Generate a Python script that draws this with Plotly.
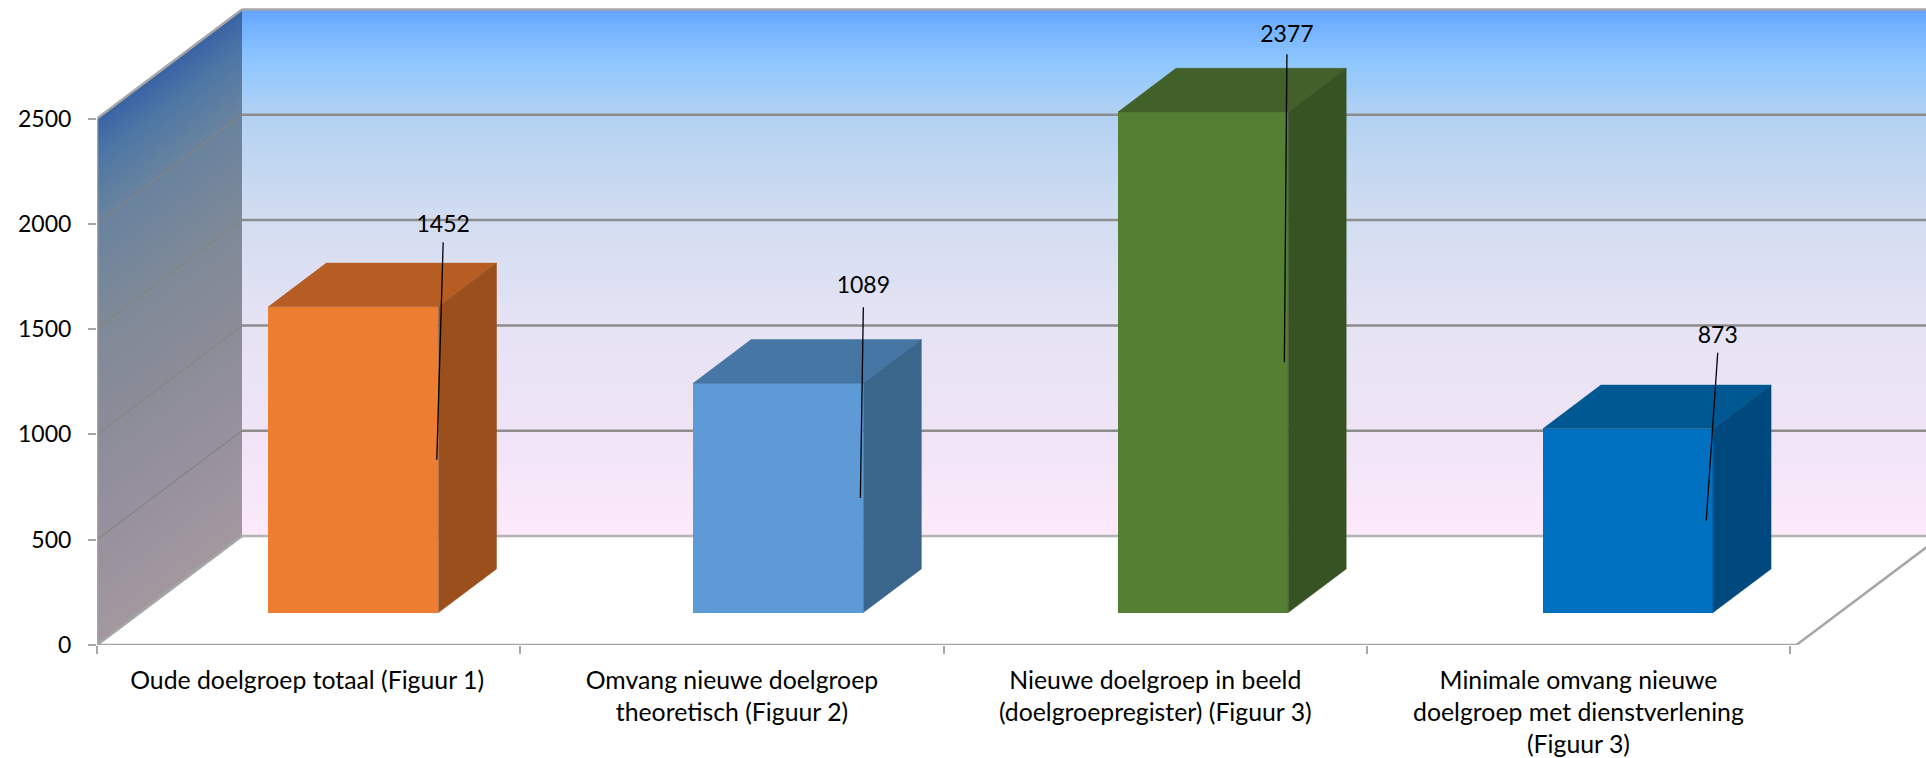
import plotly.graph_objects as go

# ---- data ----
categories = [
    "Oude doelgroep totaal (Figuur 1)",
    "Omvang nieuwe doelgroep<br>theoretisch (Figuur 2)",
    "Nieuwe doelgroep in beeld<br>(doelgroepregister) (Figuur 3)",
    "Minimale omvang nieuwe<br>doelgroep met dienstverlening<br>(Figuur 3)",
]
values = [1452, 1089, 2377, 873]
y_ticks = [0, 500, 1000, 1500, 2000, 2500]

# ---- styles ----
front_colors = ["#ed7d31", "#5e9bd6", "#558033", "#0070c0"]
top_colors = ["#b55d22", "#4676a3", "#41602a", "#005893"]
side_colors = ["#9a4f1c", "#3a668c", "#375323", "#00497f"]
# leader-line placement relative to each bar's front face
label_lift = [306, 361, 274, 361]
leader_top_dx = [0.011, 0.0, -0.003, 0.011]
leader_low_dx = [-0.004, -0.007, -0.009, -0.016]
label_gap = [78, 96, 84, 72]

W, H = 1926, 758
LEFT, BOTTOM_PX = 97, 645
PX_X, PX_Y = 424.85, 0.2106
X_END = (W - LEFT) / PX_X
Y_END = BOTTOM_PX / PX_Y
WALL_DX, WALL_DY = 145 / PX_X, 109 / PX_Y     # depth of the chart box
BAR_DX, BAR_DY = 58 / PX_X, 207.5             # depth of each bar
BAR_W = 0.4006
SHIFT_X, BASE = 0.1035, 153.8                 # front face sits inside the floor
GRID = "#8c8c8c"
FRAME = "#a6a6a6"
FONT_NUM = dict(family="Lato, Carlito, sans-serif", size=23, color="#000000")
FONT_CAT = dict(family="Lato, Carlito, sans-serif", size=24.8, color="#000000")


def hex_rgb(c):
    return [int(c[i:i + 2], 16) for i in (1, 3, 5)]


def ramp(stops, t):
    for (a, ca), (b, cb) in zip(stops, stops[1:]):
        if t <= b:
            f = (t - a) / (b - a)
            ra, rb = hex_rgb(ca), hex_rgb(cb)
            return "rgb(%d,%d,%d)" % tuple(round(p + (q - p) * f) for p, q in zip(ra, rb))
    return stops[-1][1]


shapes = []

# back wall: vertical gradient (stops are in screen pixels from the top)
back_stops = [(9, "#62a3ff"), (27, "#74b2ff"), (65, "#90c8ff"), (114, "#b2d1f2"),
              (220, "#d3ddf1"), (325, "#e5e3f4"), (430, "#efe4f6"), (536, "#fde9fc")]
for py in range(9, 536, 3):
    shapes.append(dict(type="rect", layer="below", xref="x", yref="y", line_width=0,
                       x0=WALL_DX, x1=X_END,
                       y0=(BOTTOM_PX - py - 3.6) / PX_Y, y1=(BOTTOM_PX - py) / PX_Y,
                       fillcolor=ramp(back_stops, py + 1.5)))

# left wall: gradient that follows the wall's slant
left_stops = [(0, "#3a62a5"), (40, "#4d77a5"), (100, "#68829f"), (200, "#7d8998"),
              (300, "#8a8c98"), (400, "#95909e"), (527, "#a3989f")]
for t in range(0, 527, 6):
    v1 = 2500 - t / PX_Y
    v0 = max(2500 - (t + 7) / PX_Y, 0)
    shapes.append(dict(type="path", layer="below", xref="x", yref="y", line_width=0,
                       path=f"M0,{v0} L{WALL_DX},{v0 + WALL_DY} L{WALL_DX},{v1 + WALL_DY} L0,{v1} Z",
                       fillcolor=ramp(left_stops, t + 3)))

# gridlines on back and left walls
for v in y_ticks:
    if 0 < v < 2500:
        shapes.append(dict(type="line", layer="below", xref="x", yref="y",
                           x0=WALL_DX, x1=X_END, y0=v + WALL_DY, y1=v + WALL_DY,
                           line=dict(color=GRID, width=2.5)))
        shapes.append(dict(type="line", layer="below", xref="x", yref="y",
                           x0=0, x1=WALL_DX, y0=v, y1=v + WALL_DY,
                           line=dict(color="#85857f", width=1.2)))
shapes.append(dict(type="line", layer="below", xref="x", yref="y", x0=WALL_DX, x1=X_END,
                   y0=WALL_DY, y1=WALL_DY, line=dict(color="#b4b4b4", width=2.5)))

fig = go.Figure()

# frame lines of the box
AXIS_END = 4.0
frame_x = [0, AXIS_END, AXIS_END + WALL_DX, None, 0, 0, WALL_DX, None, 0, WALL_DX, None,
           WALL_DX, X_END]
frame_y = [0, 0, WALL_DY, None, 0, 2500, 2500 + WALL_DY, None, 0, WALL_DY, None,
           2500 + WALL_DY, 2500 + WALL_DY]
fig.add_trace(go.Scatter(x=frame_x, y=frame_y, mode="lines", cliponaxis=False,
                         hoverinfo="skip", showlegend=False,
                         line=dict(color=FRAME, width=2.5)))

# front faces
centers = [i + 0.5 + SHIFT_X for i in range(len(values))]
fig.add_trace(go.Bar(x=centers, y=values, base=[BASE] * len(values), width=BAR_W,
                     marker=dict(color=front_colors, line=dict(width=0)),
                     showlegend=False, hoverinfo="skip"))

# top and side faces, computed from the values
for c, v, tc, sc in zip(centers, values, top_colors, side_colors):
    l, r = c - BAR_W / 2, c + BAR_W / 2
    t = BASE + v
    fig.add_trace(go.Scatter(x=[l, l + BAR_DX, r + BAR_DX, r, l], y=[t, t + BAR_DY, t + BAR_DY, t, t],
                             mode="lines", fill="toself", fillcolor=tc, line=dict(color=tc, width=0.5),
                             hoverinfo="skip", showlegend=False))
    fig.add_trace(go.Scatter(x=[r, r + BAR_DX, r + BAR_DX, r, r],
                             y=[BASE, BASE + BAR_DY, t + BAR_DY, t, BASE],
                             mode="lines", fill="toself", fillcolor=sc, line=dict(color=sc, width=0.5),
                             hoverinfo="skip", showlegend=False))

# leader lines and value labels
lx, ly, tx, ty = [], [], [], []
for c, v, lift, top_dx, low_dx, gap in zip(centers, values, label_lift, leader_top_dx, leader_low_dx, label_gap):
    r = c + BAR_W / 2
    lx += [r + low_dx, r + top_dx, None]
    ly += [BASE + v / 2, BASE + v + lift, None]
    tx.append(r + top_dx)
    ty.append(BASE + v + lift + gap)
fig.add_trace(go.Scatter(x=lx, y=ly, mode="lines", line=dict(color="#000000", width=1.3),
                         hoverinfo="skip", showlegend=False))
fig.add_trace(go.Scatter(x=tx, y=ty, mode="text", text=[str(v) for v in values],
                         textposition="middle center", textfont=FONT_NUM, cliponaxis=False,
                         hoverinfo="skip", showlegend=False))

fig.update_layout(
    width=W, height=H, autosize=False,
    margin=dict(l=LEFT, r=0, t=0, b=H - BOTTOM_PX, pad=0),
    paper_bgcolor="#ffffff", plot_bgcolor="#ffffff",
    shapes=shapes, showlegend=False, bargap=0,
    xaxis=dict(range=[0, X_END], showgrid=False, zeroline=False, showline=False,
               tickmode="array", tickvals=[0.4945, 1.4945, 2.491, 3.487], ticktext=categories,
               ticks="", tickangle=0, tickfont=FONT_CAT, ticklabelstandoff=18,
               minor=dict(tickmode="array", tickvals=[0, 0.9965, 1.9925, 2.989, 3.985],
                          ticks="outside", ticklen=8, tickcolor=FRAME, tickwidth=1.5, showgrid=False)),
    yaxis=dict(range=[0, Y_END], showgrid=False, zeroline=False, showline=False,
               tickmode="array", tickvals=y_ticks, ticks="outside", ticklen=8,
               tickcolor=FRAME, tickwidth=1.5, tickfont=FONT_NUM, ticklabelstandoff=12),
)

fig.write_html("out.html", config=dict(displayModeBar=False),
               post_script="document.body.style.margin='0';document.body.style.overflow='hidden';")
